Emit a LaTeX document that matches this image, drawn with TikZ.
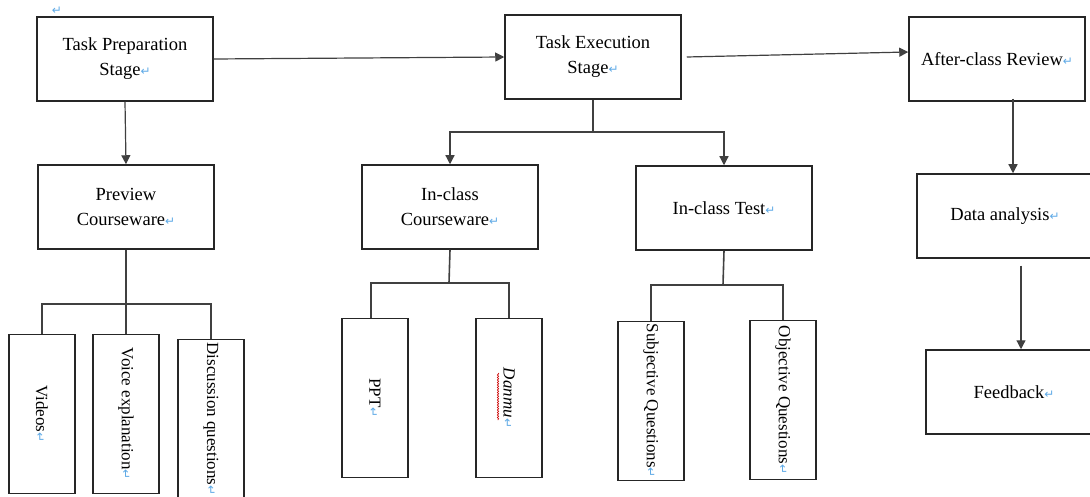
\documentclass[tikz,border=0pt]{standalone}
\usepackage{fontspec}
\setmainfont{Liberation Serif}
\newfontfamily\markfont{DejaVu Sans}
\usepackage{graphicx}
\usetikzlibrary{arrows.meta,decorations.pathmorphing}
\definecolor{markblue}{RGB}{95,170,230}
\newcommand{\rt}{{\markfont\fontsize{12}{12}\selectfont\color{markblue}↵}}

\begin{document}
\begin{tikzpicture}[x=1pt, y=-1pt,
    box/.style={draw=black!85, line width=1.5pt, minimum width=176pt, minimum height=84pt,
        inner sep=0pt, align=center, font=\fontsize{18.5}{25}\selectfont},
    vbox/.style={draw=black!85, line width=1.5pt, minimum width=66pt, minimum height=159pt,
        inner sep=0pt, font=\fontsize{17}{20}\selectfont},
    link/.style={black!75, line width=1.2pt},
    arrow/.style={link, -{Triangle[length=9pt,width=9pt]}}]
    \useasboundingbox (0,0) rectangle (1090,497);

    \node (pmark) at (57,11) {\rt};
    \node[box] (prep) at (125,59) {Task Preparation\\Stage\rt};
    \node[box] (exec) at (593,57) {Task Execution\\Stage\rt};
    \node[box] (after) at (997,59) {After-class Review\rt};

    \node[box] (preview) at (126,207) {Preview\\Courseware\rt};
    \node[box] (incw) at (450,207) {In-class\\Courseware\rt};
    \node[box] (intest) at (724,208) {In-class Test\rt};
    \node[box] (data) at (1005,216) {Data analysis\rt};
    \node[box] (feed) at (1014,392) {Feedback\rt};

    \node[vbox] (videos) at (42,414) {\rotatebox{-90}{Videos\rt}};
    \node[vbox] (voice) at (126,414) {\rotatebox{-90}{Voice explanation\rt}};
    \node[vbox] (discuss) at (211,419) {\rotatebox{-90}{Discussion questions\rt}};
    \node[vbox] (ppt) at (375,398) {\rotatebox{-90}{PPT\rt}};
    \node[vbox] (danmu) at (509,398) {\rotatebox{-90}{\textit{Danmu}\rt}};
    \node[vbox] (subj) at (651,401) {\rotatebox{-90}{Subjective Questions\rt}};
    \node[vbox] (obj) at (783,400) {\rotatebox{-90}{Objective Questions\rt}};

    \coordinate (pj) at (126,304);
    \coordinate (ej) at (593,132);
    \coordinate (cj) at (449,283);
    \coordinate (tj) at (723,285);
    \coordinate (ra) at (1013,0);
    \coordinate (fa) at (1021,0);

    \draw[arrow] (prep.east) -- (exec.west);
    \draw[arrow] ([xshift=5pt]exec.east) -- ([yshift=7pt]after.west);
    \draw[arrow] (prep.south) -- (preview.north);
    \draw[link] (exec.south) -- (ej);
    \draw[arrow] (ej) -| (incw.north);
    \draw[arrow] (ej) -| (intest.north);
    \draw[arrow] ([yshift=3pt]after.south -| ra) -- (data.north -| ra);
    \draw[arrow] ([yshift=-7pt]data.south -| fa) -- (feed.north -| fa);

    \draw[link] (preview.south) -- (voice.north);
    \draw[link] (videos.north) |- (pj) -| (discuss.north);
    \draw[link, line width=1.6pt] (incw.south) -- (cj);
    \draw[link] ([xshift=-4pt]ppt.north) |- (cj) -| (danmu.north);
    \draw[link, line width=1.6pt] (intest.south) -- (tj);
    \draw[link] (subj.north) |- (tj) -| (obj.north);

    \draw[red!80!black, line width=0.6pt, decorate,
        decoration={snake, amplitude=0.7pt, segment length=2.5pt}]
        ([xshift=-11pt,yshift=25pt]danmu.center) -- ++(0,47);
\end{tikzpicture}
\end{document}
